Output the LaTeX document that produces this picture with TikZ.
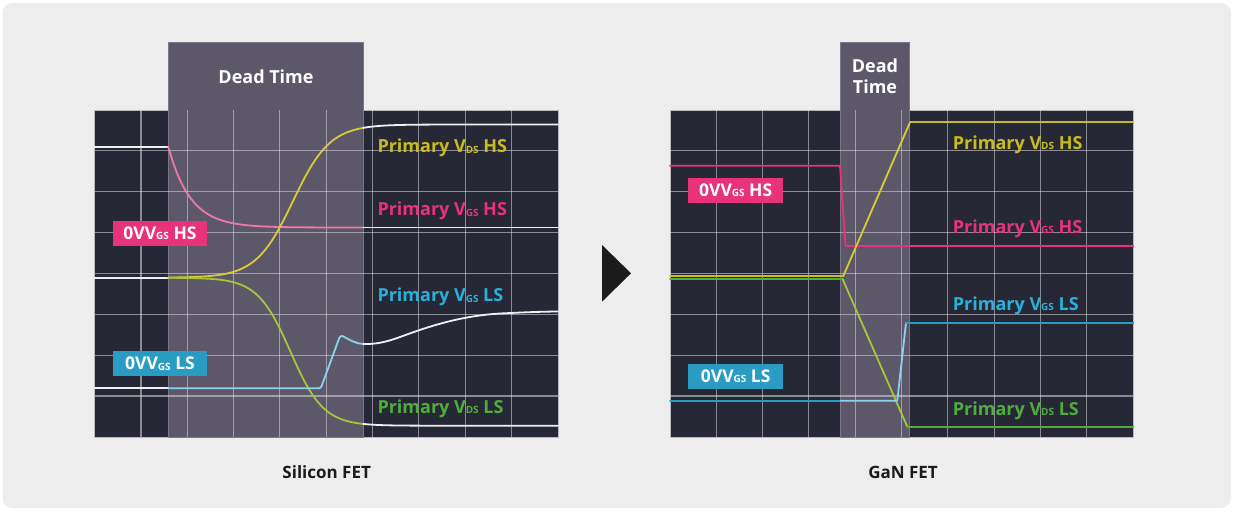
\documentclass[tikz,border=0pt]{standalone}
\usepackage{fontspec}
\setmainfont{Open Sans}
\usepackage{xcolor}
\usepackage{tikz}
\usetikzlibrary{calc}
\definecolor{panel}{HTML}{EDEDED}
\definecolor{scopebg}{HTML}{272835}
\definecolor{dead}{HTML}{5D5869}
\definecolor{deadedge}{HTML}{7A7589}
\definecolor{frame}{HTML}{B9B8C0}
\definecolor{gridc}{HTML}{DCDBE2}
\definecolor{trace}{HTML}{F0F0F2}
\definecolor{sigpink}{HTML}{E8327A}
\definecolor{sigpinklt}{HTML}{EC79A6}
\definecolor{sigyel}{HTML}{C8BC1E}
\definecolor{sigyellt}{HTML}{D6CC38}
\definecolor{siggrn}{HTML}{4DAE3E}
\definecolor{siglime}{HTML}{A6C63A}
\definecolor{sigblu}{HTML}{2A9BC3}
\definecolor{sigblutx}{HTML}{2BB0DA}
\definecolor{sigblult}{HTML}{8DD2EC}
\definecolor{ink}{HTML}{1B1B1B}
\newcommand{\vsub}[1]{\raisebox{-0.4pt}{\fontsize{10}{10}\selectfont #1}}
\tikzset{
  screen/.style={fill=scopebg, draw=frame, line width=0.8pt},
  deadbox/.style={fill=dead, draw=deadedge, line width=0.8pt},
  gridl/.style={draw=gridc, draw opacity=0.55, line width=1.1pt},
  wave/.style={line width=1.8pt, line cap=round, line join=round},
  tag/.style={minimum width=94.6pt, minimum height=24.7pt, inner sep=0pt, text=white, font=\fontsize{17.5}{20}\selectfont\bfseries},
  lab/.style={anchor=base west, inner sep=0pt, font=\fontsize{18}{20}\selectfont\bfseries},
  head/.style={text=white, align=center, inner sep=0pt, font=\fontsize{18}{21}\selectfont\bfseries},
  fetname/.style={text=ink, inner sep=0pt, font=\fontsize{17}{20}\selectfont\bfseries},
}
\begin{document}
\begin{tikzpicture}[x=1pt,y=-1pt]
  \useasboundingbox (0,0) rectangle (1234,512);
  \fill[panel, rounded corners=10pt] (2.5,3) rectangle (1231,508);

  % Silicon FET
  \draw[screen] (94.7,110) rectangle (558,437);
  \draw[deadbox] (168.3,42.7) rectangle (363.3,437);
  \foreach \k in {1,...,9} \draw[gridl] ({94.7+46.3*\k},110) -- ({94.7+46.3*\k},437);
  \foreach \k in {1,...,7} \draw[gridl] (94.7,{110+40.85*\k}) -- (558,{110+40.85*\k});
  \node[head] (deadL) at (266,76.7) {Dead Time};

  \draw[wave, trace] (94.7,146.7) -- (168.3,146.7);
  \draw[wave, sigpinklt] plot[domain=168.3:363.3, samples=70] (\x,{227.5-80.8*exp(-(\x-168.3)/22)});
  \draw[wave, trace] (363.3,227.5) -- (558,227.5);

  \draw[wave, trace] (94.7,277.7) -- (168.3,277.7);
  \draw[wave, sigyellt] plot[domain=168.3:363.3, samples=70] (\x,{277.7-153.2/(1+exp(-(\x-293)/18.5))});
  \draw[wave, trace] plot[domain=363.3:558, samples=40] (\x,{277.7-153.2/(1+exp(-(\x-293)/18.5))});
  \draw[wave, siglime] plot[domain=168.3:363.3, samples=70] (\x,{277.7+148/(1+exp(-(\x-290.5)/16.5))});
  \draw[wave, trace] plot[domain=363.3:558, samples=40] (\x,{277.7+148/(1+exp(-(\x-290.5)/16.5))});

  \draw[wave, trace] (94.7,388.3) -- (168.3,388.3);
  \draw[wave, sigblult] (168.3,388.3) -- (319,388.3) .. controls (321,388.3) and (321,387) .. (322,385)
    -- (338.5,340) .. controls (340,336) and (341,335.5) .. (342.5,336)
    .. controls (350,340) and (356,343.8) .. (363.3,344);
  \draw[wave, trace] (363.3,344) .. controls (375,344.3) and (385,342.5) .. (400,337)
    .. controls (430,326) and (460,316) .. (500,313.5) .. controls (530,312) and (545,311.6) .. (558,311.5);

  \node[tag, fill=sigpink] (gatehsL) at (160,233.3) {0VV\vsub{GS} HS};
  \node[tag, fill=sigblu] (gatelsL) at (160,363.5) {0VV\vsub{GS} LS};
  \node[lab, text=sigyel] (vdshsL) at (377.3,152.7) {Primary V\vsub{DS} HS};
  \node[lab, text=sigpink] (vgshsL) at (377.3,215.7) {Primary V\vsub{GS} HS};
  \node[lab, text=sigblutx] (vgslsL) at (377.3,301.7) {Primary V\vsub{GS} LS};
  \node[lab, text=siggrn] (vdslsL) at (377.3,413.3) {Primary V\vsub{DS} LS};
  \node[fetname] (siL) at (326.7,472) {Silicon FET};

  \fill[ink] (602,245) -- (602,301.7) -- (631,273.3) -- cycle;

  % GaN FET
  \draw[screen] (670,110) rectangle (1133.3,437);
  \draw[deadbox] (840.7,42.7) rectangle (909.3,437);
  \foreach \k in {1,...,9} \draw[gridl] ({670+46.3*\k},110) -- ({670+46.3*\k},437);
  \foreach \k in {1,...,7} \draw[gridl] (670,{110+40.85*\k}) -- (1133.3,{110+40.85*\k});
  \node[head] (deadR) at (875,76.7) {Dead\\Time};

  \draw[wave, sigpink] (670,165.7) -- (840,165.7) -- (845.5,246) -- (1133.3,246);
  \draw[wave, sigyel] (670,276) -- (843.3,276);
  \draw[wave, sigyellt] (843.3,276) -- (910,122.3);
  \draw[wave, sigyel] (910,122.3) -- (1133.3,122.3);
  \draw[wave, siggrn] (670,279.3) -- (842.7,279.3);
  \draw[wave, siglime] (842.7,279.3) -- (907.3,426.7);
  \draw[wave, siggrn] (907.3,426.7) -- (1133.3,426.7);
  \draw[wave, sigblu] (670,400.7) -- (840.7,400.7);
  \draw[wave, sigblult] (840.7,400.7) -- (897.3,400.7) -- (906,322.7);
  \draw[wave, sigblu] (906,322.7) -- (1133.3,322.7);

  \node[tag, fill=sigpink] (gatehsR) at (735.7,190.3) {0VV\vsub{GS} HS};
  \node[tag, fill=sigblu] (gatelsR) at (735.7,376.3) {0VV\vsub{GS} LS};
  \node[lab, text=sigyel] (vdshsR) at (952.7,149) {Primary V\vsub{DS} HS};
  \node[lab, text=sigpink] (vgshsR) at (952.7,233.3) {Primary V\vsub{GS} HS};
  \node[lab, text=sigblutx] (vgslsR) at (952.7,310) {Primary V\vsub{GS} LS};
  \node[lab, text=siggrn] (vdslsR) at (952.7,415) {Primary V\vsub{DS} LS};
  \node[fetname] (ganR) at (903,472) {GaN FET};
\end{tikzpicture}
\end{document}
